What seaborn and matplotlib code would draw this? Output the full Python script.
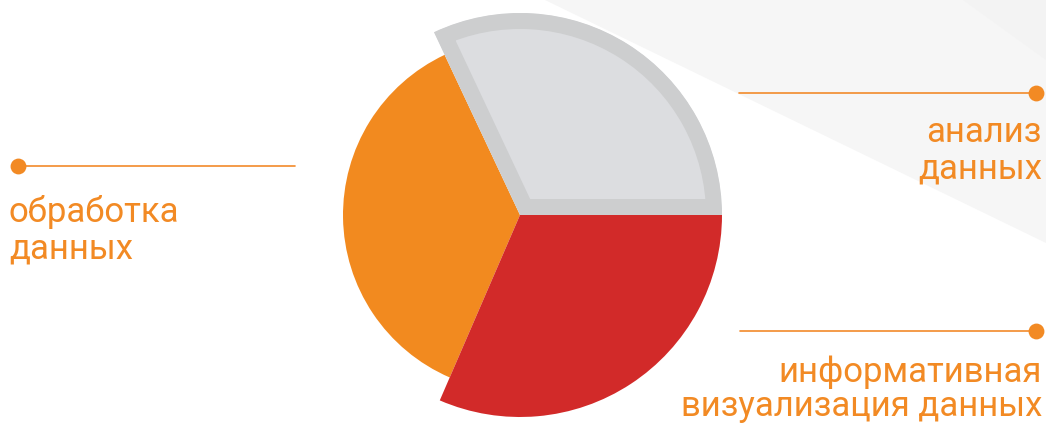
import numpy as np
import matplotlib
matplotlib.use("Agg")
import matplotlib.pyplot as plt
import seaborn as sns
from matplotlib.patches import Polygon, Wedge

# data
labels = ['анализ данных', 'обработка данных', 'информативная визуализация данных']
shares = [32.0, 36.5, 31.5]
colors = ['#dcdde0', '#f28a1f', '#d22a29']
radii = [202, 177, 202]

label_lines = {
    'анализ данных': ['анализ', 'данных'],
    'обработка данных': ['обработка', 'данных'],
    'информативная визуализация данных': ['информативная', 'визуализация данных'],
}

sns.set_theme(style='white')
plt.rcParams['font.family'] = ['Roboto', 'DejaVu Sans']

W, H = 1046, 423
fig = plt.figure(figsize=(W / 100, H / 100), dpi=100)
ax = fig.add_axes([0, 0, 1, 1])
ax.set_xlim(0, W)
ax.set_ylim(0, H)

# pale background triangle at the top right
ax.add_patch(Polygon([(545, H), (W, H), (W, H - 243)], closed=True,
                     facecolor='#f6f6f6', edgecolor='none', zorder=0))
ax.add_patch(Polygon([(963, H), (W, H), (W, H - 60)], closed=True,
                     facecolor='#f3f3f3', edgecolor='none', zorder=0))

cx, cy = 520, H - 215
wedges, _ = ax.pie(shares, colors=colors, startangle=0, counterclock=True,
                   center=(cx, cy), radius=202, frame=True,
                   wedgeprops=dict(linewidth=0))
for w, r in zip(wedges, radii):
    w.set_radius(r)
    w.set_zorder(2)

# grey slice gets a thick inner border: stroke clipped to the slice shape
g = wedges[0]
clip = Wedge(g.center, g.r, g.theta1, g.theta2, transform=ax.transData)
g.set_edgecolor('#cdcecf')
g.set_linewidth(32 * 72 / 100)
g.set_joinstyle('miter')
g.set_clip_on(True)
g.set_clip_path(clip)
g.set_zorder(3)

orange_txt = '#f28a24'
line_kw = dict(color='#f28a2a', lw=1.2, zorder=4)
dot_kw = dict(color='#f28a24', s=130, zorder=5, linewidths=0)
fs = 25


def label(x, y, key, ha, step=36):
    # one text per line, y = baseline of the first line (pixels from top)
    for i, t in enumerate(label_lines[key]):
        ax.text(x, H - (y + step * i), t, color=orange_txt, fontsize=fs,
                ha=ha, va='baseline', zorder=5)


# left label
ax.plot([18, 295], [H - 166, H - 166], **line_kw)
ax.scatter([18], [H - 166], **dot_kw)
label(9, 222, 'обработка данных', 'left')

# top right label
ax.plot([739, 1036], [H - 93, H - 93], **line_kw)
ax.scatter([1036], [H - 93], **dot_kw)
label(1042, 142, 'анализ данных', 'right')

# bottom right label
ax.plot([740, 1036], [H - 331, H - 331], **line_kw)
ax.scatter([1036], [H - 331], **dot_kw)
label(1042, 382, 'информативная визуализация данных', 'right', step=34)

ax.set_xlim(0, W)
ax.set_ylim(0, H)
ax.set_aspect('equal')
ax.axis('off')

fig.savefig('out.png', dpi=100, facecolor='white')
